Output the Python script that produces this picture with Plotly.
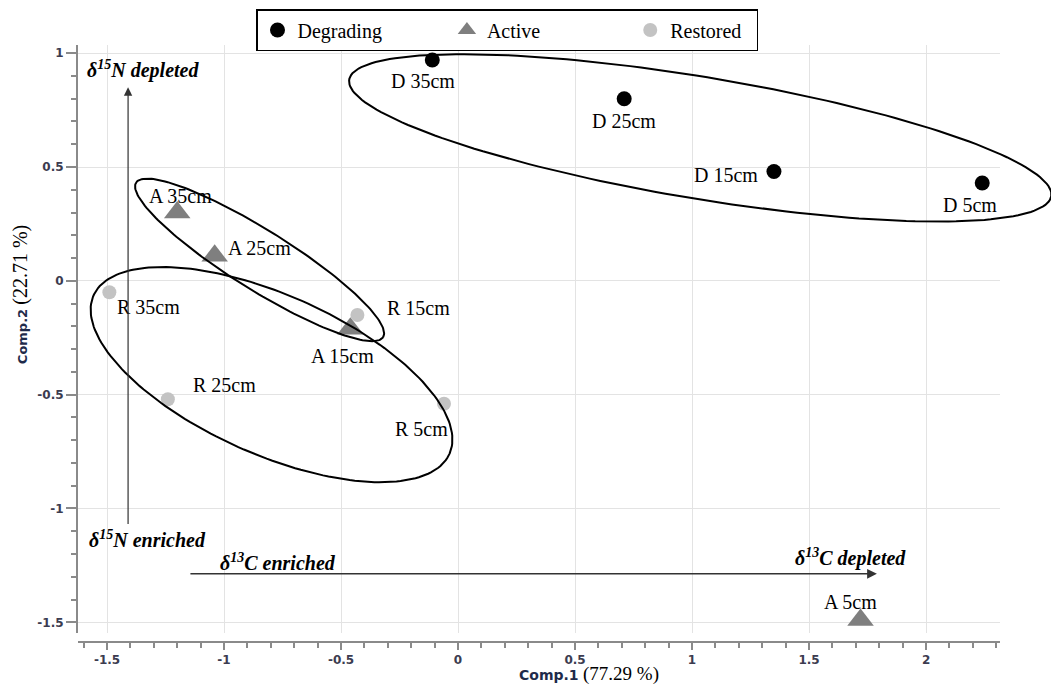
import numpy as np
import plotly.graph_objects as go

# PCA scores (Comp.1, Comp.2) by site condition and depth
d_labels = ["D 35cm", "D 25cm", "D 15cm", "D 5cm"]
d_comp1 = [-0.11, 0.71, 1.35, 2.24]
d_comp2 = [0.97, 0.80, 0.48, 0.43]

a_labels = ["A 35cm", "A 25cm", "A 15cm", "A 5cm"]
a_comp1 = [-1.20, -1.04, -0.46, 1.72]
a_comp2 = [0.30, 0.11, -0.21, -1.49]

r_labels = ["R 35cm", "R 25cm", "R 15cm", "R 5cm"]
r_comp1 = [-1.49, -1.24, -0.43, -0.06]
r_comp2 = [-0.05, -0.52, -0.15, -0.54]

x_tickvals = [-1.5, -1, -0.5, 0, 0.5, 1, 1.5, 2]
x_ticktext = ["-1.5", "-1", "-0.5", "0", "0.5", "1", "1.5", "2"]
y_tickvals = [1, 0.5, 0, -0.5, -1, -1.5]
y_ticktext = ["1", "0.5", "0", "-0.5", "-1", "-1.5"]

# group ellipses: centre, major half-vector, minor half-vector (data units)
ellipse_deg = dict(c=(1.035, 0.628), u=(1.50, -0.256), v=(0.042, 0.264))
ellipse_act = dict(c=(-0.848, 0.092), u=(0.528, -0.339), v=(0.066, 0.112))
ellipse_res = dict(c=(-0.797, -0.412), u=(0.761, -0.347), v=(0.136, 0.321))

# label offsets from each point, in px (dx right, dy down)
d_offsets = [(-9, 21), (0, 22), (-48, 3), (-12, 22)]
a_offsets = [(3, -17), (45, -8), (-8, 27), (-10, -18)]
r_offsets = [(39, 15), (57, -14), (61, -7), (-22, 25)]

SERIF = "Liberation Serif, Times New Roman, serif"
SANS = "DejaVu Sans, Arial, sans-serif"
NBSP = "\u00a0"

# pixel geometry of the plotting area
L, R, T, B = 78, 0, 45, 44
W, H = 1051, 686
X0, X1 = -1.624, 2.316          # visible Comp.1 range (grid / axis)
px_per_unit = (W - L - 51) / (X1 - X0)
X1_ext = X0 + (W - L - R) / px_per_unit   # extended range so ellipses may run past the grid
Y0, Y1 = -1.547, 1.036
PH = H - T - B

fig = go.Figure()

fig.add_trace(go.Scatter(
    x=d_comp1, y=d_comp2, mode="markers", name="Degrading" + NBSP * 12, cliponaxis=False,
    marker=dict(symbol="circle", size=15, color="black"),
))
fig.add_trace(go.Scatter(
    x=a_comp1, y=a_comp2, mode="markers", name="Active" + NBSP * 17, cliponaxis=False,
    marker=dict(symbol="triangle-up", size=23, color="#7f7f7f"),
))
fig.add_trace(go.Scatter(
    x=r_comp1, y=r_comp2, mode="markers", name="Restored" + NBSP * 2, cliponaxis=False,
    marker=dict(symbol="circle", size=14, color="#c3c3c3"),
))


def ellipse_xy(e, n=200):
    t = np.linspace(0, 2 * np.pi, n)
    cx, cy = e["c"]
    ux, uy = e["u"]
    vx, vy = e["v"]
    return cx + ux * np.cos(t) + vx * np.sin(t), cy + uy * np.cos(t) + vy * np.sin(t)


for e in (ellipse_deg, ellipse_act, ellipse_res):
    ex, ey = ellipse_xy(e)
    fig.add_trace(go.Scatter(x=ex, y=ey, mode="lines", xaxis="x2", yaxis="y2",
                             line=dict(color="black", width=2), showlegend=False,
                             hoverinfo="skip"))

lab_font = dict(family=SERIF, size=20, color="black")
annotations = []
for xs, ys, labs, offs in ((d_comp1, d_comp2, d_labels, d_offsets),
                           (a_comp1, a_comp2, a_labels, a_offsets),
                           (r_comp1, r_comp2, r_labels, r_offsets)):
    for x, y, lab, (dx, dy) in zip(xs, ys, labs, offs):
        annotations.append(dict(x=x, y=y, xref="x", yref="y", text=lab, showarrow=False,
                                xanchor="center", yanchor="middle", xshift=dx, yshift=-dy,
                                font=lab_font))

ann_font = dict(family=SERIF, size=20, color="black")
annotations += [
    # vertical δ15N arrow
    dict(x=-1.41, y=0.85, ax=-1.41, ay=-1.075, xref="x", yref="y", axref="x", ayref="y",
         showarrow=True, arrowhead=2, arrowsize=1.4, arrowwidth=1.2, arrowcolor="#333333", text=""),
    # horizontal δ13C arrow
    dict(x=1.79, y=-1.287, ax=-1.15, ay=-1.287, xref="x", yref="y", axref="x", ayref="y",
         showarrow=True, arrowhead=2, arrowsize=1.4, arrowwidth=1.4, arrowcolor="#333333", text=""),
    dict(x=-1.594, y=0.927, xref="x", yref="y", xanchor="left", yanchor="middle", showarrow=False,
         text="<b><i>δ<sup>15</sup>N depleted</i></b>", font=ann_font),
    dict(x=-1.585, y=-1.134, xref="x", yref="y", xanchor="left", yanchor="middle", showarrow=False,
         text="<b><i>δ<sup>15</sup>N enriched</i></b>", font=ann_font),
    dict(x=-1.026, y=-1.235, xref="x", yref="y", xanchor="left", yanchor="middle", showarrow=False,
         text="<b><i>δ<sup>13</sup>C enriched</i></b>", font=ann_font),
    dict(x=1.923, y=-1.217, xref="x", yref="y", xanchor="right", yanchor="middle", showarrow=False,
         text="<b><i>δ<sup>13</sup>C depleted</i></b>", font=ann_font),
    # axis titles
    dict(x=0.525, y=-(674 - (H - B)) / PH, xref="paper", yref="paper", xanchor="center",
         yanchor="middle", showarrow=False,
         text="<b>Comp.1</b> <span style='font-family:Liberation Serif;font-size:19px;color:black'>(77.29 %)</span>",
         font=dict(family=SANS, size=14, color="#1e2a4a")),
    dict(x=-0.0596, y=0.581, xref="paper", yref="paper", xanchor="center", yanchor="middle",
         showarrow=False, textangle=-90,
         text="<b>Comp.2</b> <span style='font-family:Liberation Serif;font-size:20px;color:black'>(22.71 %)</span>",
         font=dict(family=SANS, size=13, color="#1e2a4a")),
]

axis_common = dict(
    showgrid=True, gridcolor="#e3e3e3", gridwidth=1,
    showline=True, linecolor="#8a8a8a", linewidth=2,
    ticks="outside", tickwidth=2, tickcolor="#8a8a8a",
    tickfont=dict(family=SANS, size=12, color="#3c3c50", weight="bold"),
    zeroline=False,
)
minor_common = dict(dtick=0.1, tick0=0, ticks="outside", ticklen=5, tickwidth=1.5,
                    tickcolor="#8a8a8a", showgrid=False)

y_dom = [9 / PH, 1]

fig.update_layout(
    width=W, height=H,
    margin=dict(l=L, r=R, t=T, b=B),
    paper_bgcolor="white", plot_bgcolor="rgba(0,0,0,0)",
    xaxis=dict(range=[X0, X1], domain=[0, (W - L - 51) / (W - L - R)],
               tickmode="array", tickvals=x_tickvals, ticktext=x_ticktext, ticklen=7,
               anchor="free", position=0, minor=minor_common, **axis_common),
    yaxis=dict(range=[Y0, Y1], domain=y_dom, tickmode="array", ticklen=10,
               tickvals=y_tickvals, ticktext=y_ticktext, minor=minor_common, **axis_common),
    xaxis2=dict(range=[X0, X1_ext], domain=[0, 1], anchor="y2", visible=False,
                showgrid=False, zeroline=False),
    yaxis2=dict(range=[Y0, Y1], domain=y_dom, anchor="x2", visible=False,
                showgrid=False, zeroline=False),
    showlegend=True,
    legend=dict(orientation="h", x=(256 - L) / (W - L - R), y=1 + 36 / PH,
                xanchor="left", yanchor="top",
                bgcolor="white", bordercolor="black", borderwidth=1.5,
                font=dict(family=SERIF, size=20, color="black"),
                itemsizing="trace"),
    annotations=annotations,
)

fig.write_html("out.html")
